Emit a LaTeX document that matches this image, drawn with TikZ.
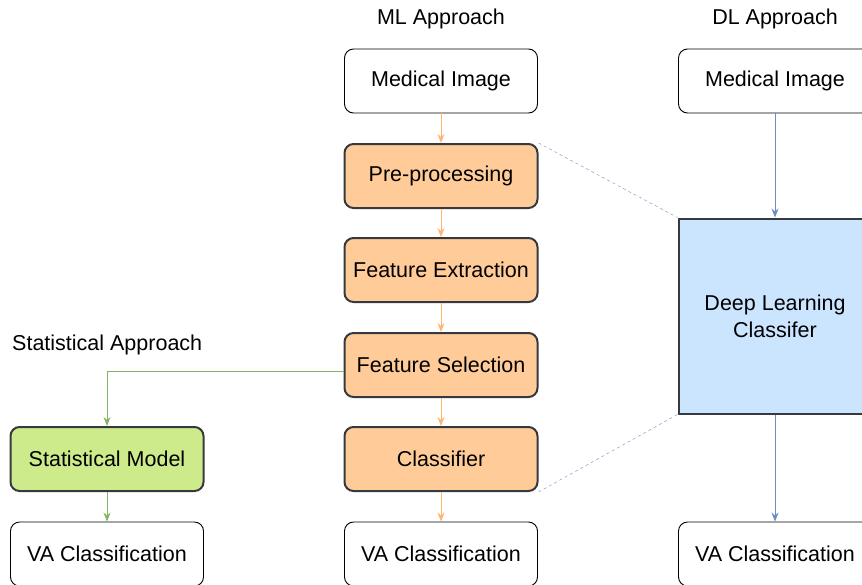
\documentclass[tikz,border=0pt]{standalone}
\usepackage{fontspec}
\setmainfont{Liberation Sans}
\usetikzlibrary{arrows.meta}
\tikzset{>={Stealth[length=9pt,width=7pt]}}
\definecolor{mlfill}{HTML}{FFCC99}
\definecolor{mlline}{HTML}{FFB570}
\definecolor{statfill}{HTML}{CDEB8B}
\definecolor{statline}{HTML}{82B366}
\definecolor{dlfill}{HTML}{CCE5FF}
\definecolor{dlline}{HTML}{6C8EBF}
\definecolor{edge}{HTML}{36393D}

\begin{document}
\begin{tikzpicture}[x=1pt,y=-1pt,font=\fontsize{21.5}{27}\selectfont,
    plainbox/.style={draw=black, fill=white, rounded corners=9pt, line width=0.9pt,
      minimum width=193pt, minimum height=64pt, inner sep=0pt},
    mlbox/.style={plainbox, draw=edge, fill=mlfill, line width=2pt},
    statbox/.style={plainbox, draw=edge, fill=statfill, line width=2pt},
    dlbox/.style={draw=edge, fill=dlfill, line width=2pt, minimum width=193pt,
      minimum height=195pt, align=center, inner sep=0pt},
    title/.style={inner sep=0pt}]
    \clip (0,0) rectangle (862,584);

    % column headings
    \node[title] (mlhead) at (441,19) {ML Approach};
    \node[title] (dlhead) at (775,19) {DL Approach};
    \node[title, anchor=west] (sthead) at (12,345) {Statistical Approach};

    % ML approach
    \node[plainbox] (mlimg) at (441,81) {Medical Image};
    \node[mlbox] (pre) at (441,176) {Pre-processing};
    \node[mlbox] (fe) at (441,270) {Feature Extraction};
    \node[mlbox] (fs) at (441,365) {Feature Selection};
    \node[mlbox] (cls) at (441,459) {Classifier};
    \node[plainbox] (mlva) at (441,554) {VA Classification};

    % statistical approach
    \node[statbox] (sm) at (107,459) {Statistical Model};
    \node[plainbox] (stva) at (107,554) {VA Classification};

    % DL approach
    \node[plainbox] (dlimg) at (775,81) {Medical Image};
    \node[dlbox] (dl) at (775,316) {Deep Learning\\Classifer};
    \node[plainbox] (dlva) at (775,554) {VA Classification};

    \draw[->, color=mlline, line width=0.9pt] (mlimg) -- (pre);
    \draw[->, color=mlline, line width=0.9pt] (pre) -- (fe);
    \draw[->, color=mlline, line width=0.9pt] (fe) -- (fs);
    \draw[->, color=mlline, line width=0.9pt] (fs) -- (cls);
    \draw[->, color=mlline, line width=0.9pt] (cls) -- (mlva);

    \draw[->, color=statline, line width=0.9pt] ([yshift=-6pt]fs.west) -| (sm.north);
    \draw[->, color=statline, line width=0.9pt] (sm) -- (stva);

    \draw[->, color=dlline, line width=0.9pt] (dlimg) -- (dl);
    \draw[->, color=dlline, line width=0.9pt] (dl) -- (dlva);

    \draw[color=dlline, dash pattern=on 3pt off 3pt] (pre.north east) -- (dl.north west);
    \draw[color=dlline, dash pattern=on 3pt off 3pt] (cls.south east) -- (dl.south west);
\end{tikzpicture}
\end{document}
